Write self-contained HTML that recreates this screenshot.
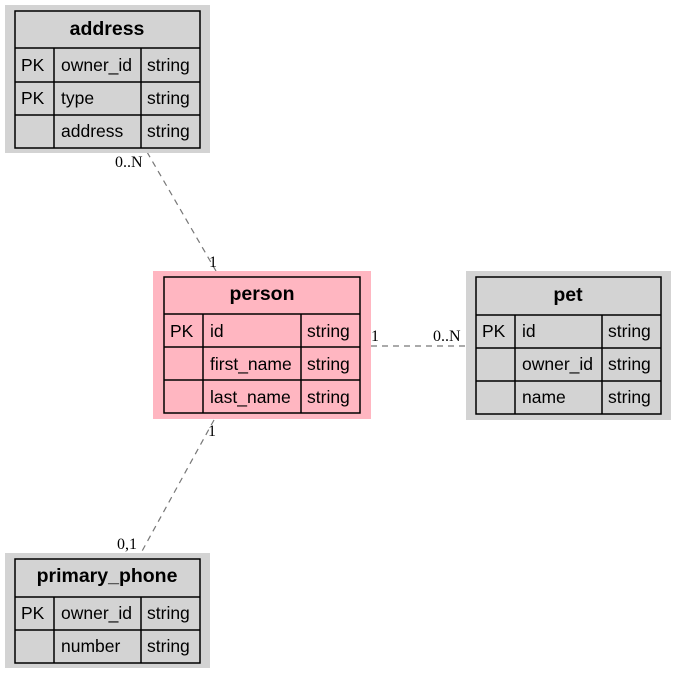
<!DOCTYPE html>
<html><head><meta charset="utf-8"><style>
html,body{margin:0;padding:0;background:#fff;}
svg{display:block;}
text{font-family:"Liberation Sans",Arial,sans-serif;font-size:17.5px;fill:#000;}
.h{font-weight:bold;font-size:19.5px;}
.l{font-family:"Liberation Serif",serif;font-size:16px;}
.c{fill:none;stroke:#000;stroke-width:1.5;}
.e{stroke:#777;stroke-width:1.2;stroke-dasharray:6,5;fill:none;}
</style></head><body>
<svg width="677" height="674" viewBox="0 0 677 674">
<line class="e" x1="147" y1="152" x2="216" y2="271"/>
<line class="e" x1="371" y1="346" x2="466" y2="346"/>
<line class="e" x1="214" y1="420" x2="141" y2="553"/>
<text class="l" x="115" y="167">0..N</text>
<text class="l" x="209" y="267">1</text>
<text class="l" x="371" y="341">1</text>
<text class="l" x="433" y="341">0..N</text>
<text class="l" x="208" y="436">1</text>
<text class="l" x="117" y="549">0,1</text>

<rect x="5" y="5" width="205" height="148" fill="#d3d3d3"/>
<rect class="c" x="15" y="11" width="185" height="137"/>
<line class="c" x1="15" y1="48" x2="200" y2="48"/>
<line class="c" x1="15" y1="82" x2="200" y2="82"/>
<line class="c" x1="15" y1="115" x2="200" y2="115"/>
<line class="c" x1="54" y1="48" x2="54" y2="148"/>
<line class="c" x1="141" y1="48" x2="141" y2="148"/>
<text class="h" x="107" y="35" text-anchor="middle">address</text>
<text x="21" y="71">PK</text><text x="61" y="71">owner_id</text><text x="147" y="71">string</text>
<text x="21" y="104">PK</text><text x="61" y="104">type</text><text x="147" y="104">string</text>
<text x="61" y="137">address</text><text x="147" y="137">string</text>

<rect x="153" y="271" width="218" height="148" fill="#ffb6c1"/>
<rect class="c" x="164" y="277" width="196" height="136"/>
<line class="c" x1="164" y1="314" x2="360" y2="314"/>
<line class="c" x1="164" y1="347" x2="360" y2="347"/>
<line class="c" x1="164" y1="380" x2="360" y2="380"/>
<line class="c" x1="203" y1="314" x2="203" y2="413"/>
<line class="c" x1="301" y1="314" x2="301" y2="413"/>
<text class="h" x="262" y="300" text-anchor="middle">person</text>
<text x="170" y="337">PK</text><text x="210" y="337">id</text><text x="307" y="337">string</text>
<text x="210" y="370">first_name</text><text x="307" y="370">string</text>
<text x="210" y="403">last_name</text><text x="307" y="403">string</text>

<rect x="466" y="271" width="205" height="149" fill="#d3d3d3"/>
<rect class="c" x="476" y="277" width="185" height="137"/>
<line class="c" x1="476" y1="315" x2="661" y2="315"/>
<line class="c" x1="476" y1="348" x2="661" y2="348"/>
<line class="c" x1="476" y1="381" x2="661" y2="381"/>
<line class="c" x1="515" y1="315" x2="515" y2="414"/>
<line class="c" x1="602" y1="315" x2="602" y2="414"/>
<text class="h" x="568" y="301" text-anchor="middle">pet</text>
<text x="482" y="337">PK</text><text x="522" y="337">id</text><text x="608" y="337">string</text>
<text x="522" y="370">owner_id</text><text x="608" y="370">string</text>
<text x="522" y="403">name</text><text x="608" y="403">string</text>

<rect x="5" y="553" width="205" height="115" fill="#d3d3d3"/>
<rect class="c" x="15" y="559" width="185" height="104"/>
<line class="c" x1="15" y1="597" x2="200" y2="597"/>
<line class="c" x1="15" y1="630" x2="200" y2="630"/>
<line class="c" x1="54" y1="597" x2="54" y2="663"/>
<line class="c" x1="141" y1="597" x2="141" y2="663"/>
<text class="h" x="107" y="582" text-anchor="middle">primary_phone</text>
<text x="21" y="619">PK</text><text x="61" y="619">owner_id</text><text x="147" y="619">string</text>
<text x="61" y="652">number</text><text x="147" y="652">string</text>
</svg>
</body></html>
